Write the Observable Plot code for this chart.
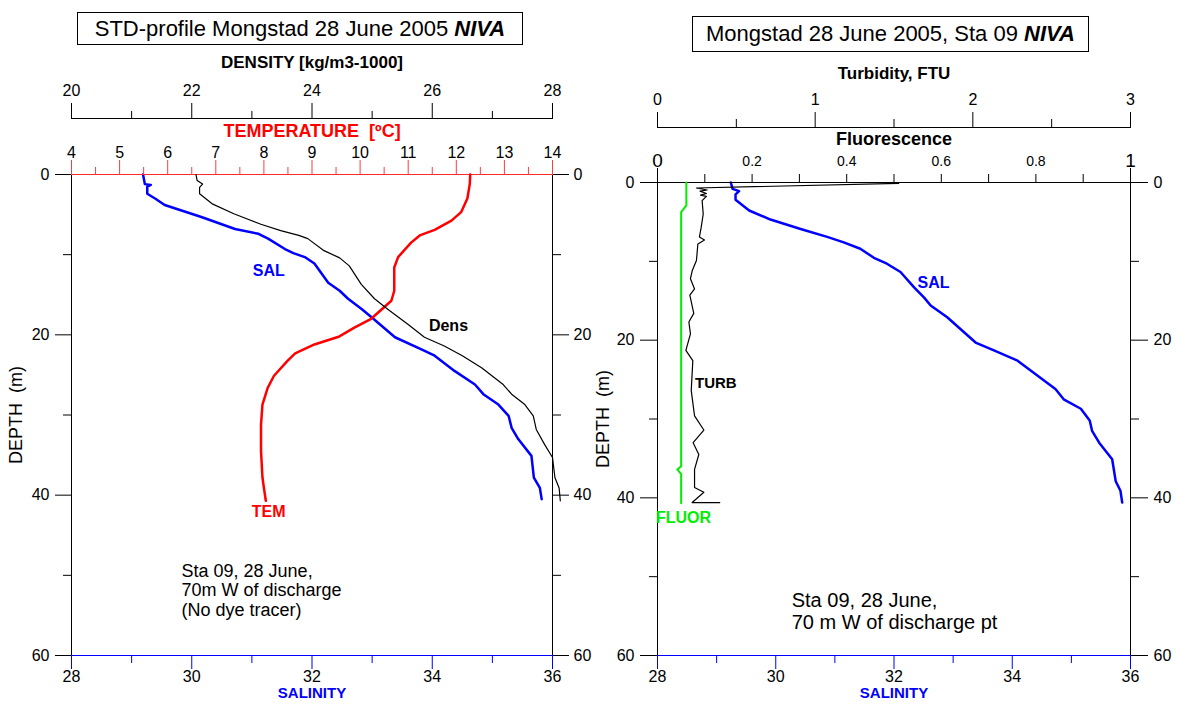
<!DOCTYPE html>
<html><head><meta charset="utf-8">
<script src="https://cdn.jsdelivr.net/npm/d3@7"></script>
<script src="https://cdn.jsdelivr.net/npm/@observablehq/plot@0.6"></script>
<style>
body{margin:0;background:#fff;}
#wrap{position:relative;width:1177px;height:704px;font-family:"Liberation Sans",Arial,sans-serif;overflow:hidden;background:#fff;}
.title{position:absolute;border:1px solid #000;box-sizing:border-box;font-size:22px;text-align:center;white-space:nowrap;}
</style></head>
<body><div id="wrap">
<div class="title" style="left:77px;top:12px;width:446px;height:33px;line-height:31px;">STD-profile Mongstad 28 June 2005 <b><i>NIVA</i></b></div>
<div class="title" style="left:692px;top:16px;width:397px;height:36px;line-height:34px;">Mongstad 28 June 2005, Sta 09 <b><i>NIVA</i></b></div>
</div>
<script>
// ---------- tick values ----------
const depthMajor = [0, 20, 40, 60];
const depthMinor = [10, 30, 50];
const salMajor = [28, 30, 32, 34, 36];
const salMinor = [29, 31, 33, 35];
const tempMajor = [4, 5, 6, 7, 8, 9, 10, 11, 12, 13, 14];
const tempMinor = [4.5, 5.5, 6.5, 7.5, 8.5, 9.5, 10.5, 11.5, 12.5, 13.5];
const densMajor = [20, 22, 24, 26, 28];
const densMinor = [21, 23, 25, 27];
const turbMajor = [0, 1, 2, 3];
const turbMinor = [0.5, 1.5, 2.5];
const fluorEnds = [0, 1];
const fluorLabelled = [0.2, 0.4, 0.6, 0.8];
const fluorPlain = [0.1, 0.3, 0.5, 0.7, 0.9];

// ---------- left panel series: [depth m, value] ----------
const salLeft = [[0,29.19],[1.2,29.22],[1.3,29.32],[1.5,29.26],[2.4,29.26],[3.0,29.39],[3.8,29.55],[5.3,30.16],[6.8,30.72],[7.4,31.11],[8.0,31.27],[9.3,31.55],[9.8,31.69],[10.3,31.88],[11.1,32.04],[13.5,32.27],[14.5,32.46],[15.5,32.60],[16.8,32.83],[18.0,33.02],[20.3,33.38],[21.8,33.82],[22.6,34.04],[24.5,34.37],[26.2,34.71],[27.4,34.85],[28.7,35.10],[30.1,35.27],[31.6,35.32],[33.0,35.43],[35.1,35.65],[37.8,35.69],[39.1,35.79],[40.5,35.82]];
const densLeft = [[0,22.07],[0.75,22.09],[1.2,22.18],[1.6,22.13],[2.4,22.13],[3.7,22.35],[4.9,22.7],[6.2,23.15],[7.0,23.48],[7.6,23.78],[8.0,23.93],[9.5,24.2],[10.4,24.46],[11.4,24.62],[13.7,24.82],[15.5,25.04],[16.8,25.26],[18.7,25.6],[20.3,25.87],[21.4,26.2],[22.6,26.5],[24.1,26.82],[26.2,27.18],[27.4,27.32],[28.7,27.54],[30.1,27.68],[31.8,27.73],[33.7,27.87],[35.3,28.0],[37.8,28.04],[39.1,28.11],[40.7,28.13]];
const temLeft = [[0,12.29],[1.2,12.28],[3,12.23],[4.7,12.1],[5.75,11.9],[6.9,11.55],[7.6,11.24],[8.5,11.06],[10.3,10.79],[11.6,10.71],[14.5,10.71],[15.75,10.65],[18,10.23],[19.1,9.88],[20.2,9.57],[21.2,9.05],[22.3,8.65],[23.25,8.49],[25.1,8.21],[26.6,8.08],[28.7,7.97],[31.2,7.94],[34.5,7.94],[37.8,7.97],[39.1,8.0],[40.7,8.04]];

// ---------- right panel series: [depth m, value] ----------
const salRight = [[0,29.24],[0.8,29.27],[1.1,29.38],[1.5,29.32],[2.2,29.32],[3.55,29.55],[4.7,29.91],[5.9,30.42],[6.9,30.87],[7.6,31.15],[8.4,31.43],[9.55,31.66],[10.3,31.88],[11.35,32.11],[13.3,32.34],[14.6,32.51],[15.6,32.62],[17.1,32.90],[20.3,33.38],[21.3,33.69],[22.6,34.09],[26.2,34.73],[27.5,34.87],[28.7,35.16],[30.2,35.31],[31.5,35.35],[33,35.47],[35.1,35.69],[37.9,35.75],[39.1,35.83],[40.6,35.86]];
const fluorRight = [[0,0.061],[2.9,0.061],[3.75,0.05],[36,0.05],[36.4,0.042],[37,0.05],[40.7,0.05]];
const turbRight = [[0.1,1.53],[0.7,0.247],[0.95,0.315],[1.1,0.27],[1.4,0.31],[1.6,0.273],[1.75,0.31],[2.3,0.283],[4,0.29],[5.7,0.277],[6.9,0.266],[7.3,0.298],[7.8,0.256],[9.9,0.247],[11.2,0.22],[12.2,0.209],[13.5,0.235],[14.3,0.205],[16.6,0.23],[17.7,0.199],[19.2,0.209],[21.3,0.18],[22.6,0.224],[26.4,0.214],[29.6,0.235],[31.4,0.294],[33,0.226],[34.5,0.262],[36.4,0.235],[38.7,0.235],[39.3,0.294],[40.6,0.22],[40.6,0.395]];

// ---------- series labels ----------
const labelsLeftSal = [{v: 31.28, d: 12.0, t: "SAL"}];
const labelsLeftDens = [{v: 26.27, d: 18.9, t: "Dens"}];
const labelsLeftTem = [{v: 8.1, d: 42.1, t: "TEM"}];
const labelsRightSal = [{v: 32.67, d: 12.7, t: "SAL"}];
const labelsRightTurb = [{v: 0.37, d: 25.4, t: "TURB"}];
const labelsRightFluor = [{v: 0.055, d: 42.6, t: "FLUOR"}];
const notesLeft = [{v: 29.83, d: 48.4, t: "Sta 09, 28 June,\n70m W of discharge\n(No dye tracer)"}];
const notesRight = [{v: 30.27, d: 51.9, t: "Sta 09, 28 June,\n70 m W of discharge pt"}];

const FONT = '"Liberation Sans", Arial, sans-serif';
const TICK = 16;
const wrap = document.getElementById("wrap");
function add(opts) {
  const svg = Plot.plot({
    width: 1177, height: 704,
    style: {position: "absolute", left: "0px", top: "0px", background: "transparent", overflow: "visible", fontFamily: FONT, fontSize: "16px", color: "black", maxWidth: "none"},
    ...opts
  });
  wrap.appendChild(svg);
}
const X = d => d[1], Y = d => d[0];
const none = () => "";
const plain = d => String(d);

// ===== LEFT PANEL =====
const L = {marginLeft: 71, marginRight: 1177 - 552, marginBottom: 704 - 655};
add({...L, marginTop: 174,
  x: {domain: [28, 36]}, y: {domain: [0, 60], reverse: true},
  marks: [
    Plot.ruleX([28, 36], {stroke: "black"}),
    Plot.ruleY([60], {stroke: "blue"}),
    Plot.axisY({anchor: "left", ticks: depthMajor, tickSize: 16, tickPadding: 6, fontSize: TICK, tickFormat: plain, label: null}),
    Plot.axisY({anchor: "left", ticks: depthMinor, tickSize: 8, tickFormat: none, label: null}),
    Plot.axisY({anchor: "right", ticks: depthMajor, tickSize: 16, tickPadding: 5, fontSize: TICK, tickFormat: plain, label: null}),
    Plot.axisY({anchor: "right", ticks: depthMinor, tickSize: 8, tickFormat: none, label: null}),
    Plot.axisX({anchor: "bottom", ticks: salMajor, tickSize: 14, tickPadding: 1, stroke: "blue", fill: "black", fontSize: TICK, tickFormat: plain, label: null}),
    Plot.axisX({anchor: "bottom", ticks: salMinor, tickSize: 8, stroke: "blue", tickFormat: none, label: null}),
    Plot.text(["DEPTH  (m)"], {frameAnchor: "left", dx: -55, rotate: -90, textAnchor: "middle", lineAnchor: "middle", fontSize: 18}),
    Plot.text(["SALINITY"], {frameAnchor: "bottom", dy: 38, lineAnchor: "middle", fill: "blue", fontWeight: "bold", fontSize: 15}),
    Plot.line(salLeft, {x: X, y: Y, stroke: "blue", strokeWidth: 2.5}),
    Plot.text(labelsLeftSal, {x: "v", y: "d", text: "t", fill: "blue", fontWeight: "bold", fontSize: 16}),
    Plot.text(notesLeft, {x: "v", y: "d", text: "t", textAnchor: "start", lineAnchor: "top", lineHeight: 1.1, fontSize: 18})
  ]
});
add({...L, marginTop: 174,
  x: {domain: [4, 14]}, y: {domain: [0, 60], reverse: true, axis: null},
  marks: [
    Plot.ruleY([0], {stroke: "#ff2a2a"}),
    Plot.axisX({anchor: "top", ticks: tempMajor, tickSize: 15, tickPadding: 2, stroke: "#ff3c3c", fill: "black", fontSize: TICK, tickFormat: plain, label: null}),
    Plot.axisX({anchor: "top", ticks: tempMinor, tickSize: 8, stroke: "#ff3c3c", tickFormat: none, label: null}),
    Plot.text(["TEMPERATURE  [ºC]"], {frameAnchor: "top", dy: -43, lineAnchor: "middle", fill: "red", fontWeight: "bold", fontSize: 18}),
    Plot.line(temLeft, {x: X, y: Y, stroke: "red", strokeWidth: 2.5}),
    Plot.text(labelsLeftTem, {x: "v", y: "d", text: "t", fill: "red", fontWeight: "bold", fontSize: 16})
  ]
});
add({...L, marginTop: 118,
  x: {domain: [20, 28]}, y: {domain: [0, 60], range: [174, 655], axis: null},
  marks: [
    Plot.frame({anchor: "top", stroke: "black"}),
    Plot.axisX({anchor: "top", ticks: densMajor, tickSize: 16, tickPadding: 7, fontSize: TICK, tickFormat: plain, label: null}),
    Plot.axisX({anchor: "top", ticks: densMinor, tickSize: 8, tickFormat: none, label: null}),
    Plot.text(["DENSITY [kg/m3-1000]"], {frameAnchor: "top", dy: -56, lineAnchor: "middle", fontWeight: "bold", fontSize: 17}),
    Plot.line(densLeft, {x: X, y: Y, stroke: "black", strokeWidth: 1.2}),
    Plot.text(labelsLeftDens, {x: "v", y: "d", text: "t", fontWeight: "bold", fontSize: 16})
  ]
});

// ===== RIGHT PANEL =====
const R = {marginLeft: 657, marginRight: 1177 - 1130, marginBottom: 704 - 655};
add({...R, marginTop: 182,
  x: {domain: [28, 36]}, y: {domain: [0, 60], reverse: true},
  marks: [
    Plot.ruleX([28, 36], {stroke: "black"}),
    Plot.ruleY([60], {stroke: "blue"}),
    Plot.axisY({anchor: "left", ticks: depthMajor, tickSize: 17, tickPadding: 6, fontSize: TICK, tickFormat: plain, label: null}),
    Plot.axisY({anchor: "left", ticks: depthMinor, tickSize: 8, tickFormat: none, label: null}),
    Plot.axisY({anchor: "right", ticks: depthMajor, tickSize: 17, tickPadding: 6, fontSize: TICK, tickFormat: plain, label: null}),
    Plot.axisY({anchor: "right", ticks: depthMinor, tickSize: 8, tickFormat: none, label: null}),
    Plot.axisX({anchor: "bottom", ticks: salMajor, tickSize: 14, tickPadding: 1, stroke: "blue", fill: "black", fontSize: TICK, tickFormat: plain, label: null}),
    Plot.axisX({anchor: "bottom", ticks: salMinor, tickSize: 8, stroke: "blue", tickFormat: none, label: null}),
    Plot.text(["DEPTH  (m)"], {frameAnchor: "left", dx: -54, rotate: -90, textAnchor: "middle", lineAnchor: "middle", fontSize: 18}),
    Plot.text(["SALINITY"], {frameAnchor: "bottom", dy: 38, lineAnchor: "middle", fill: "blue", fontWeight: "bold", fontSize: 15}),
    Plot.line(salRight, {x: X, y: Y, stroke: "blue", strokeWidth: 2.5}),
    Plot.text(labelsRightSal, {x: "v", y: "d", text: "t", fill: "blue", fontWeight: "bold", fontSize: 16}),
    Plot.text(notesRight, {x: "v", y: "d", text: "t", textAnchor: "start", lineAnchor: "top", lineHeight: 1.1, fontSize: 20})
  ]
});
add({...R, marginTop: 182,
  x: {domain: [0, 1]}, y: {domain: [0, 60], reverse: true, axis: null},
  marks: [
    Plot.ruleY([0], {stroke: "black"}),
    Plot.axisX({anchor: "top", ticks: fluorEnds, tickSize: 15, tickPadding: 1, fontSize: 19, tickFormat: plain, label: null}),
    Plot.axisX({anchor: "top", ticks: fluorLabelled, tickSize: 9, tickPadding: 8, fontSize: 14, tickFormat: plain, label: null}),
    Plot.axisX({anchor: "top", ticks: fluorPlain, tickSize: 9, tickFormat: none, label: null}),
    Plot.text(["Fluorescence"], {frameAnchor: "top", dy: -43, lineAnchor: "middle", fontWeight: "bold", fontSize: 18}),
    Plot.line(fluorRight, {x: X, y: Y, stroke: "#00ee00", strokeWidth: 2}),
    Plot.text(labelsRightFluor, {x: "v", y: "d", text: "t", fill: "#00ee00", fontWeight: "bold", fontSize: 16})
  ]
});
add({...R, marginTop: 127,
  x: {domain: [0, 3]}, y: {domain: [0, 60], range: [182, 655], axis: null},
  marks: [
    Plot.frame({anchor: "top", stroke: "black"}),
    Plot.axisX({anchor: "top", ticks: turbMajor, tickSize: 16, tickPadding: 7, fontSize: TICK, tickFormat: plain, label: null}),
    Plot.axisX({anchor: "top", ticks: turbMinor, tickSize: 9, tickFormat: none, label: null}),
    Plot.text(["Turbidity, FTU"], {frameAnchor: "top", dy: -54, lineAnchor: "middle", fontWeight: "bold", fontSize: 17}),
    Plot.line(turbRight, {x: X, y: Y, stroke: "black", strokeWidth: 1.2}),
    Plot.text(labelsRightTurb, {x: "v", y: "d", text: "t", fontWeight: "bold", fontSize: 15})
  ]
});
</script>
</body></html>
